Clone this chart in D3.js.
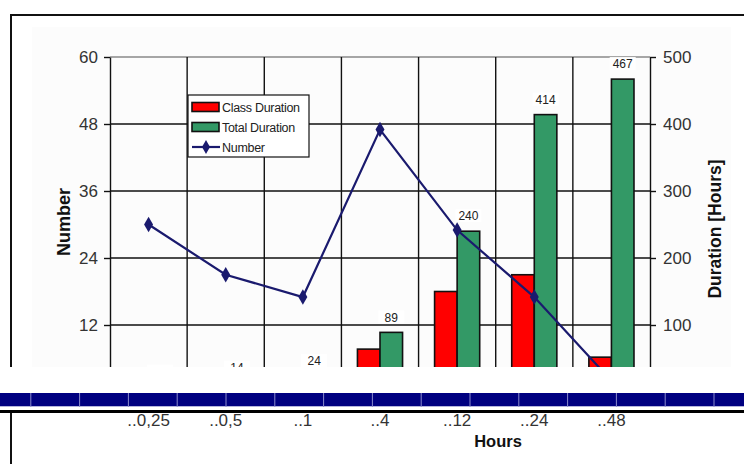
<!DOCTYPE html>
<html>
<head>
<meta charset="utf-8">
<script src="https://cdn.jsdelivr.net/npm/d3@7"></script>
<style>
  html, body { margin: 0; padding: 0; background: #fff; }
  svg { display: block; font-family: Arial, "Liberation Sans", sans-serif; }
</style>
</head>
<body>
<svg id="chart" width="744" height="464"></svg>
<script>
// Hour buckets on the category axis
const categories = ["..0,25", "..0,5", "..1", "..4", "..12", "..24", "..48"];
// Duration series (hours, right axis)
const classDuration = [3, 7, 12, 64, 150, 175, 52];
const totalDuration = [8, 14, 24, 89, 240, 414, 467];
// Count series (left axis)
const numberSeries = [30, 21, 17, 47, 29, 17, 2];
// Axis ticks
const leftTicks = [12, 24, 36, 48, 60];
const rightTicks = [0, 100, 200, 300, 400, 500];
const seriesNames = ["Class Duration", "Total Duration", "Number"];

const svg = d3.select("#chart");
const W = 744, H = 464;

const plot = { left: 110, right: 650, top: 57, bottom: 392 };

const x = d3.scaleBand().domain(categories).range([plot.left, plot.right]).paddingInner(0).paddingOuter(0);
const xs = d3.scaleBand().domain(["class", "total"]).range([0, x.bandwidth()]).paddingInner(0).paddingOuter(0.71);
const yL = d3.scaleLinear().domain([0, 60]).range([plot.bottom, plot.top]);
const yR = d3.scaleLinear().domain([0, 500]).range([plot.bottom, plot.top]);

const colors = { cls: "#ff0000", tot: "#339966", num: "#1a1a6e" };

// Upper part of the figure is clipped above the strip
svg.append("defs").append("clipPath").attr("id", "upper")
  .append("rect").attr("x", 0).attr("y", 0).attr("width", W).attr("height", 367);

const up = svg.append("g").attr("clip-path", "url(#upper)");

// faint panel tint
up.append("rect").attr("x", 32).attr("y", 27).attr("width", 699).attr("height", 400).attr("fill", "#fcfcfc");

// outer frame
up.append("line").attr("x1", 11).attr("x2", W).attr("y1", 15).attr("y2", 15).attr("stroke", "#111").attr("stroke-width", 2);
up.append("line").attr("x1", 11).attr("x2", 11).attr("y1", 14).attr("y2", H).attr("stroke", "#111").attr("stroke-width", 2);

// horizontal gridlines
up.append("g").selectAll("line").data(leftTicks).join("line")
  .attr("x1", plot.left).attr("x2", plot.right)
  .attr("y1", d => yL(d)).attr("y2", d => yL(d))
  .attr("stroke", d => d === 60 ? "#8a8a8a" : "#111").attr("stroke-width", 1.4);

// vertical gridlines at category boundaries
up.append("g").selectAll("line").data(categories.slice(1)).join("line")
  .attr("x1", d => x(d)).attr("x2", d => x(d))
  .attr("y1", plot.top).attr("y2", plot.bottom)
  .attr("stroke", "#111").attr("stroke-width", 1.4);

// left axis
const axL = up.append("g").attr("transform", `translate(${plot.left},0)`)
  .call(d3.axisLeft(yL).tickValues([0, ...leftTicks]).tickSize(6).tickPadding(6).tickSizeOuter(0));
axL.select(".domain").attr("stroke", "#111").attr("stroke-width", 1.4);
axL.selectAll(".tick line").attr("stroke", "#111").attr("stroke-width", 1.4);
axL.selectAll(".tick text").attr("font-size", 17).attr("fill", "#333").attr("font-family", "Arial, 'Liberation Sans', sans-serif");

// right axis
const axR = up.append("g").attr("transform", `translate(${plot.right},0)`)
  .call(d3.axisRight(yR).tickValues(rightTicks).tickSize(6).tickPadding(7).tickSizeOuter(0));
axR.select(".domain").attr("stroke", "#111").attr("stroke-width", 1.4);
axR.selectAll(".tick line").attr("stroke", "#111").attr("stroke-width", 1.4);
axR.selectAll(".tick text").attr("font-size", 17).attr("fill", "#333").attr("font-family", "Arial, 'Liberation Sans', sans-serif");

// axis titles
up.append("text").attr("transform", "translate(70,222) rotate(-90)")
  .attr("text-anchor", "middle").attr("font-weight", "bold").attr("font-size", 18).attr("fill", "#111")
  .text("Number");
up.append("text").attr("transform", "translate(721,229) rotate(-90)")
  .attr("text-anchor", "middle").attr("font-weight", "bold").attr("font-size", 17.5).attr("fill", "#111")
  .text("Duration [Hours]");

// bars
const bars = up.append("g");
bars.selectAll("rect.cls").data(categories).join("rect").attr("class", "cls")
  .attr("x", d => x(d) + xs("class")).attr("width", xs.bandwidth())
  .attr("y", (d, i) => yR(classDuration[i])).attr("height", (d, i) => yR(0) - yR(classDuration[i]))
  .attr("fill", colors.cls).attr("stroke", "#111").attr("stroke-width", 1.6);
bars.selectAll("rect.tot").data(categories).join("rect").attr("class", "tot")
  .attr("x", d => x(d) + xs("total")).attr("width", xs.bandwidth())
  .attr("y", (d, i) => yR(totalDuration[i])).attr("height", (d, i) => yR(0) - yR(totalDuration[i]))
  .attr("fill", colors.tot).attr("stroke", "#111").attr("stroke-width", 1.6);

// value labels above total bars
const vl = up.append("g").selectAll("g").data(categories).join("g")
  .attr("transform", (d, i) => `translate(${x(d) + xs("total") + xs.bandwidth() / 2},${yR(totalDuration[i]) - 15})`);
vl.append("rect").attr("x", -13).attr("y", -7).attr("width", 26).attr("height", 13).attr("fill", "#fff");
vl.append("text").attr("text-anchor", "middle").attr("dy", "0.35em")
  .attr("font-size", 12).attr("fill", "#222")
  .text((d, i) => totalDuration[i]);

// number line
const lineGen = d3.line().x(d => x(d.c) + x.bandwidth() / 2).y(d => yL(d.v));
const pts = categories.map((c, i) => ({ c, v: numberSeries[i] }));
up.append("path").datum(pts).attr("d", lineGen)
  .attr("fill", "none").attr("stroke", colors.num).attr("stroke-width", 2.2);
up.append("g").selectAll("path").data(pts).join("path")
  .attr("transform", d => `translate(${x(d.c) + x.bandwidth() / 2},${yL(d.v)})`)
  .attr("d", d3.symbol(d3.symbolDiamond, 70))
  .attr("fill", colors.num);

// legend
const lg = up.append("g").attr("transform", "translate(188,95)");
lg.append("rect").attr("width", 121).attr("height", 62).attr("fill", "#fff").attr("stroke", "#111").attr("stroke-width", 1.2);
const rows = lg.selectAll("g").data(seriesNames).join("g")
  .attr("transform", (d, i) => `translate(0,${12 + i * 20})`);
rows.filter((d, i) => i < 2).append("rect")
  .attr("x", 4).attr("y", -4.5).attr("width", 27).attr("height", 9)
  .attr("fill", (d, i) => i === 0 ? colors.cls : colors.tot).attr("stroke", "#111").attr("stroke-width", 1.6);
rows.filter((d, i) => i === 2).append("line")
  .attr("x1", 4).attr("x2", 32).attr("y1", 0).attr("y2", 0)
  .attr("stroke", colors.num).attr("stroke-width", 2.2);
rows.filter((d, i) => i === 2).append("path")
  .attr("transform", "translate(18,0)").attr("d", d3.symbol(d3.symbolDiamond, 55)).attr("fill", colors.num);
rows.append("text").attr("x", 34).attr("dy", "0.36em")
  .attr("font-size", 12.5).attr("fill", "#222").attr("letter-spacing", -0.3)
  .text(d => d);

// strip across the figure
const strip = svg.append("g");
strip.append("rect").attr("x", 0).attr("y", 393).attr("width", W).attr("height", 13).attr("fill", "#000080");
strip.append("rect").attr("x", 0).attr("y", 406).attr("width", W).attr("height", 1).attr("fill", "#b4b4dc");
strip.append("rect").attr("x", 0).attr("y", 410).attr("width", W).attr("height", 3).attr("fill", "#000");
strip.selectAll("line").data(d3.range(15)).join("line")
  .attr("x1", d => 30.8 + d * 48.8).attr("x2", d => 30.8 + d * 48.8)
  .attr("y1", 393).attr("y2", 407)
  .attr("stroke", "#8a8acc").attr("stroke-width", 1);

// lower part: category labels and axis title
const low = svg.append("g");
low.append("line").attr("x1", 11).attr("x2", 11).attr("y1", 413).attr("y2", H).attr("stroke", "#111").attr("stroke-width", 2);
const axB = low.append("g").attr("transform", "translate(0,414)")
  .call(d3.axisBottom(x).tickSize(0).tickPadding(0));
axB.select(".domain").remove();
axB.selectAll(".tick text").attr("font-size", 17).attr("fill", "#333")
  .attr("font-family", "Arial, 'Liberation Sans', sans-serif").attr("dy", "0.7em");
low.append("text").attr("x", 498).attr("y", 447).attr("text-anchor", "middle")
  .attr("font-weight", "bold").attr("font-size", 16.5).attr("fill", "#111").text("Hours");
</script>
</body>
</html>
